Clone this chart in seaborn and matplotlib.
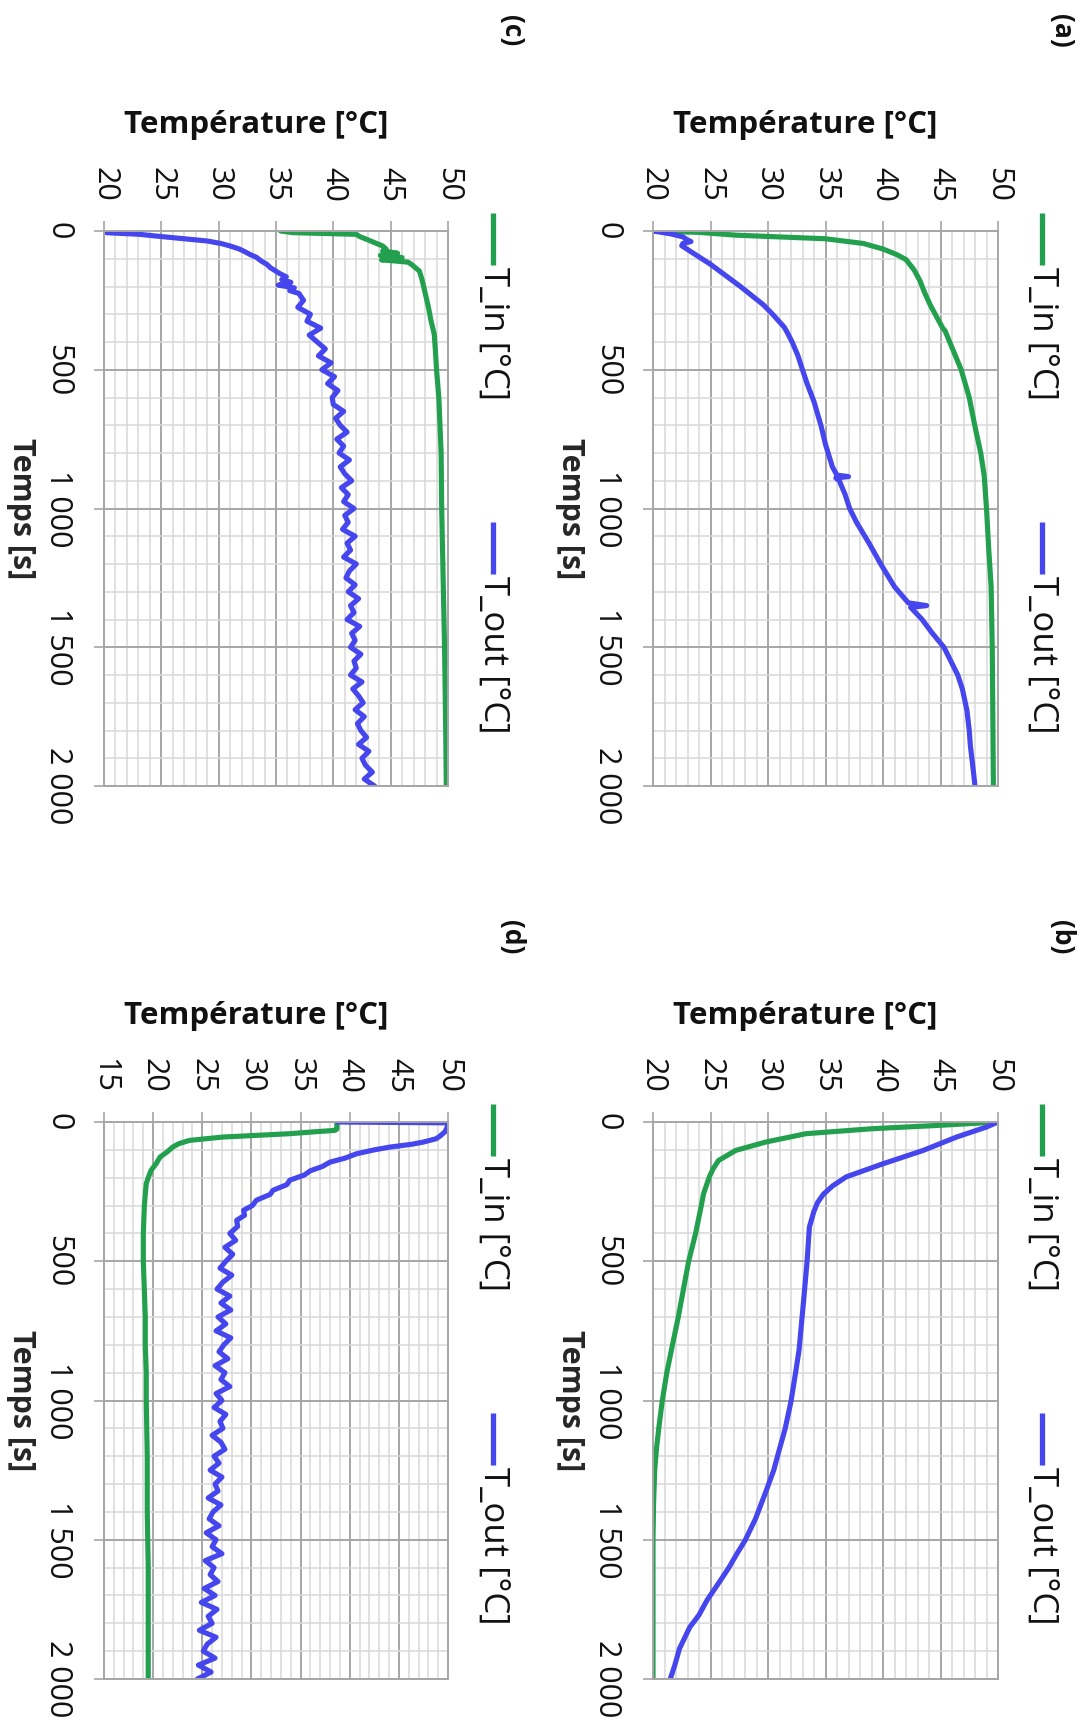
import numpy as np
import matplotlib
matplotlib.use("Agg")
import matplotlib.pyplot as plt
from matplotlib.lines import Line2D
import seaborn as sns

# ---------------- data ----------------
# panel (a)
a_tin_t = [0, 5, 15, 28, 45, 65, 85, 103, 140, 178, 220, 266, 320, 350, 360, 400, 450, 500,
           600, 705, 800, 882, 1000, 1150, 1280, 1500, 1750, 2000]
a_tin_v = [20.0, 24.0, 27.2, 35.0, 38.3, 40.0, 41.2, 42.0, 42.7, 43.2, 43.6, 44.1, 44.8, 45.2,
           45.4, 45.8, 46.3, 46.8, 47.5, 48.0, 48.5, 48.8, 49.0, 49.2, 49.4, 49.5, 49.55, 49.6]
a_tout_t = [0, 10, 21, 30, 38, 45, 53, 80, 120, 160, 200, 266, 300, 346, 360, 400, 449, 500,
            550, 615, 700, 769, 850, 880, 885, 890, 900, 949, 1000, 1050, 1126, 1200, 1282,
            1340, 1350, 1356, 1400, 1450, 1500, 1550, 1600, 1650, 1728, 1800, 1856, 1925, 2000]
a_tout_v = [20.0, 21.5, 22.6, 22.9, 23.3, 22.6, 22.5, 23.5, 25.0, 26.3, 27.6, 29.6, 30.4, 31.4,
            31.6, 32.1, 32.6, 33.0, 33.4, 34.0, 34.6, 35.0, 35.6, 36.0, 37.0, 35.9, 36.2, 36.7,
            37.1, 37.7, 38.8, 39.8, 41.0, 42.2, 43.8, 42.4, 43.4, 44.3, 45.3, 45.9, 46.5, 46.9,
            47.3, 47.5, 47.6, 47.8, 48.0]

# panel (b)
b_tin_t = [0, 6, 12, 24, 42, 72, 102, 138, 170, 197, 257, 300, 401, 500, 611, 700, 819, 900,
           1003, 1100, 1174, 1250, 1368, 1500, 1750, 2000]
b_tin_v = [50.0, 47.5, 44.9, 39.1, 33.3, 29.8, 27.2, 25.7, 25.2, 24.9, 24.4, 24.2, 23.7, 23.1,
           22.6, 22.2, 21.6, 21.2, 20.8, 20.5, 20.3, 20.15, 20.05, 20.0, 20.0, 20.0]
b_tout_t = [0, 18, 54, 102, 150, 197, 230, 260, 290, 320, 377, 500, 640, 819, 900, 1003, 1100,
            1174, 1250, 1329, 1426, 1503, 1550, 1600, 1650, 1717, 1770, 1814, 1891, 1950, 2000]
b_tout_v = [50.0, 49.0, 46.4, 43.5, 40.0, 36.8, 35.6, 34.8, 34.3, 34.0, 33.6, 33.4, 33.1, 32.7,
            32.4, 32.0, 31.5, 31.0, 30.5, 29.8, 28.9, 28.0, 27.3, 26.6, 25.8, 24.7, 24.0, 23.2,
            22.3, 21.9, 21.5]

# panel (c)
c_tin_t = [0, 6, 12, 20, 30, 42, 54, 65, 72, 80, 88, 96, 104, 112, 120, 144, 170, 204, 240,
           276, 320, 372, 430, 500, 600, 700, 800, 1000, 1200, 1500, 1800, 2000]
c_tin_v = [35.4, 36.5, 42.0, 42.3, 42.9, 43.6, 44.3, 44.6, 44.3, 45.6, 44.1, 46.0, 44.2, 46.5,
           46.8, 47.5, 47.7, 47.9, 48.1, 48.3, 48.5, 48.8, 48.9, 49.0, 49.2, 49.3, 49.4, 49.45,
           49.55, 49.7, 49.8, 49.85]
c_tout_t = [0, 6, 12, 18, 24, 30, 36, 45, 54, 65, 75, 84, 95, 108, 120, 132, 145, 155, 165,
            175, 185, 195, 205, 215, 225,
            250, 275, 300, 325, 350, 375, 400, 425, 450, 475, 500, 525, 550, 575, 600, 625,
            650, 675, 700, 725, 750, 775, 800, 825, 850, 875, 900, 925, 950, 975, 1000, 1025,
            1050, 1075, 1100, 1125, 1150, 1175, 1200, 1225, 1250, 1275, 1300, 1325, 1350,
            1375, 1400, 1425, 1450, 1475, 1500, 1525, 1550, 1575, 1600, 1625, 1650, 1675,
            1700, 1725, 1750, 1775, 1800, 1825, 1850, 1875, 1900, 1925, 1950, 1975, 2000]
c_tout_v = [20.0, 20.2, 23.1, 24.5, 26.0, 27.5, 29.0, 30.2, 31.0, 31.8, 32.3, 32.7, 33.3, 33.7,
            34.2, 34.5, 35.0, 35.4, 35.9, 35.5, 36.3, 35.2, 36.6, 36.2, 37.0,
            37.4, 36.9, 38.0, 37.7, 38.9, 37.9, 38.6, 39.3, 38.7, 39.8,
            39.0, 40.1, 39.5, 40.4, 39.9, 40.0, 40.9, 40.2, 40.6, 41.2,
            40.3, 40.9, 40.5, 41.4, 40.6, 41.0, 41.6, 40.7, 41.3, 40.9,
            41.8, 41.0, 41.3, 40.8, 41.9, 41.2, 41.5, 40.9, 42.0, 41.4,
            41.1, 41.9, 41.3, 42.2, 41.5, 41.8, 41.2, 42.3, 41.6, 41.9,
            41.5, 42.4, 41.8, 42.0, 41.5, 42.5, 41.7, 42.2, 42.6, 41.9,
            42.7, 42.1, 42.4, 42.9, 42.2, 43.1, 42.5, 42.8, 43.4, 42.7,
            43.6]

# panel (d)
d_tin_t = [0, 25, 30, 35, 42, 54, 66, 78, 90, 108, 126, 150, 173, 200, 221, 260, 305, 400, 500,
           600, 700, 800, 900, 1000, 1200, 1400, 1600, 1800, 2000]
d_tin_v = [38.7, 38.7, 38.5, 36.5, 33.9, 27.1, 23.7, 22.6, 22.0, 21.4, 20.7, 20.3, 19.8, 19.5,
           19.3, 19.2, 19.1, 19.0, 19.0, 19.1, 19.2, 19.2, 19.3, 19.3, 19.4, 19.4, 19.5, 19.5,
           19.5]
d_tout_t = [0, 3, 8, 20, 35, 50, 60, 72, 80, 90, 100, 114, 130, 144, 160, 175, 190, 209, 225,
            245, 260, 281, 300, 317, 335, 353, 375, 400, 425, 450, 475, 500,
            525, 550, 575, 600, 625, 650, 675, 700, 725, 750, 775, 800, 825, 850, 875, 900,
            925, 950, 975, 1000, 1025, 1050, 1075, 1100, 1125, 1150, 1175, 1200, 1225, 1250,
            1275, 1300, 1325, 1350, 1375, 1400, 1425, 1450, 1475, 1500, 1525, 1550, 1575,
            1600, 1625, 1650, 1675, 1700, 1725, 1750, 1775, 1800, 1825, 1850, 1875, 1900,
            1925, 1950, 1975, 2000]
d_tout_v = [38.7, 50.0, 50.0, 49.9, 49.7, 49.2, 48.8, 47.5, 46.3, 44.1, 42.5, 40.7, 39.5, 38.0,
            37.2, 36.0, 35.4, 33.9, 33.6, 32.2, 31.9, 30.5, 30.1, 29.2, 29.3, 28.5, 28.6, 27.8,
            28.4, 27.3, 28.1, 27.4,
            26.8, 28.0, 27.1, 26.5, 27.8, 26.9, 27.9, 26.6, 27.4, 26.4,
            27.9, 27.2, 26.7, 27.6, 26.3, 27.3, 26.9, 27.8, 26.4, 27.0,
            26.2, 27.4, 26.8, 27.1, 26.0, 26.9, 27.3, 26.2, 26.7, 25.8,
            27.0, 26.3, 26.6, 25.6, 26.9, 26.1, 25.7, 26.7, 25.4, 26.4,
            26.0, 27.0, 25.3, 26.2, 25.8, 26.6, 25.2, 26.3, 24.9, 26.5,
            25.6, 26.0, 24.7, 26.4, 25.5, 25.1, 26.3, 24.6, 25.9, 24.5]

series_names = ["T_in [°C]", "T_out [°C]"]
panel_labels = ["(a)", "(b)", "(c)", "(d)"]
temp_ranges = {"(a)": (20, 50), "(b)": (20, 50), "(c)": (20, 50), "(d)": (15, 50)}
time_ticks = [0, 500, 1000, 1500, 2000]
time_ticklabels = ["0", "500", "1 000", "1 500", "2 000"]
x_title = "Température [°C]"
y_title = "Temps [s]"

panel_data = {
    "(a)": ((a_tin_t, a_tin_v), (a_tout_t, a_tout_v)),
    "(b)": ((b_tin_t, b_tin_v), (b_tout_t, b_tout_v)),
    "(c)": ((c_tin_t, c_tin_v), (c_tout_t, c_tout_v)),
    "(d)": ((d_tin_t, d_tin_v), (d_tout_t, d_tout_v)),
}
for k, (s1, s2) in panel_data.items():
    assert len(s1[0]) == len(s1[1]), (k, "in", len(s1[0]), len(s1[1]))
    assert len(s2[0]) == len(s2[1]), (k, "out", len(s2[0]), len(s2[1]))

# ---------------- style ----------------
sns.set_theme(style="white")
plt.rcParams["font.family"] = ["Open Sans", "DejaVu Sans"]

GREEN = "#22A04E"
BLUE = "#4646EE"
MAJOR = "#A6A6A6"
MINOR = "#D9D9D9"
FS = 22
LW = 3.7

W, H = 1089, 1729
fig = plt.figure(figsize=(W / 100, H / 100), dpi=100)


def fx(px):
    return px / W


def fy(py):
    return 1 - py / H


# panel boxes in pixels: left, right, top, bottom
boxes = {
    "(a)": (653, 998, 231, 786),
    "(c)": (104, 448, 231, 786),
    "(b)": (653, 998, 1122, 1679),
    "(d)": (104, 448, 1122, 1679),
}

for name, (l, r, t, b) in boxes.items():
    ax = fig.add_axes([fx(l), fy(b), (r - l) / W, (b - t) / H])
    (tin_t, tin_v), (tout_t, tout_v) = panel_data[name]
    sns.lineplot(x=tin_v, y=tin_t, ax=ax, color=GREEN, lw=LW, sort=False,
                 estimator=None, solid_joinstyle="round")
    sns.lineplot(x=tout_v, y=tout_t, ax=ax, color=BLUE, lw=LW, sort=False,
                 estimator=None, solid_joinstyle="round")
    lo, hi = temp_ranges[name]
    ax.set_xlim(lo, hi)
    ax.set_ylim(2000, 0)
    ax.set_xticks(np.arange(lo, hi + 1, 5))
    ax.set_xticks(np.arange(lo, hi + 1, 1), minor=True)
    ax.set_yticks(time_ticks, labels=time_ticklabels)
    ax.set_yticks(np.arange(0, 2001, 100), minor=True)
    ax.set_axisbelow(True)
    ax.grid(which="minor", color=MINOR, lw=1.1)
    ax.grid(which="major", color=MAJOR, lw=1.4)
    ax.xaxis.tick_top()
    ax.tick_params(axis="x", which="major", top=True, bottom=False, labeltop=True,
                   labelbottom=False, length=7.2, width=1.2, color=MAJOR, pad=14,
                   labelsize=FS, labelrotation=-90, labelcolor="#111111")
    ax.tick_params(axis="y", which="major", left=True, length=7.2, width=1.2, color=MAJOR,
                   pad=15, labelsize=FS, labelrotation=-90, labelcolor="#111111")
    ax.tick_params(which="minor", length=0)
    for lbl in ax.get_yticklabels():
        lbl.set_va("center")
    for s in ax.spines.values():
        s.set_color(MAJOR)
        s.set_linewidth(1.4)
    ax.set_xlabel("")
    ax.set_ylabel(y_title, rotation=-90, fontweight="bold", fontsize=FS,
                  va="center", ha="center")
    ax.yaxis.set_label_coords(-83 / (r - l), 0.5)

    # axis title (horizontal in the rotated layout)
    fig.text(fx(l + 152), fy(t - 106), x_title, ha="center", va="center",
             fontsize=22.5, fontweight="bold", color="#111111")
    # panel label
    fig.text(fx(l + 408), fy(t - 200 if t < 500 else t - 185), name, rotation=-90,
             ha="center", va="center", fontsize=19, fontweight="bold", color="#111111")
    # legend
    lx = l + 389
    for (y0, col, txt) in [(t - 18, GREEN, series_names[0]),
                           (t + 291, BLUE, series_names[1])]:
        fig.add_artist(Line2D([fx(lx), fx(lx)], [fy(y0), fy(y0 + 52)],
                              transform=fig.transFigure, color=col, lw=3.8,
                              solid_capstyle="butt"))
        fig.text(fx(lx), fy(y0 + 54), txt, rotation=-90, ha="center", va="top",
                 fontsize=25, color="#111111")

fig.savefig("out.png", dpi=100, facecolor="white")
